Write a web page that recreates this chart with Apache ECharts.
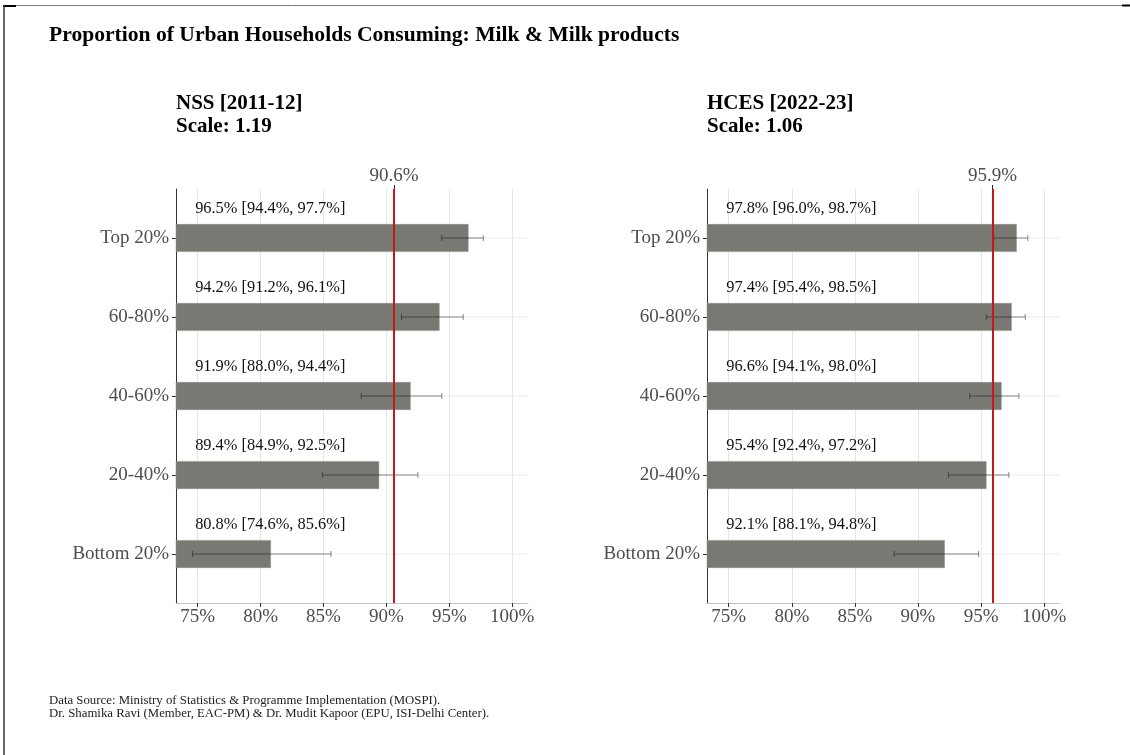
<!DOCTYPE html>
<html><head><meta charset="utf-8">
<script src="https://cdn.jsdelivr.net/npm/echarts@6/dist/echarts.min.js"></script>
<style>html,body{margin:0;padding:0;background:#fff}#c{width:1130px;height:755px}</style>
</head><body><div id="c"></div>
<script>
// ---------- data ----------
const mainTitle = 'Proportion of Urban Households Consuming: Milk & Milk products';
const categories = ['Top 20%', '60-80%', '40-60%', '20-40%', 'Bottom 20%'];
const xTicks = [75, 80, 85, 90, 95, 100];

const nssTitle = 'NSS [2011-12]';
const nssScale = 'Scale: 1.19';
const nssValue = [96.5, 94.2, 91.9, 89.4, 80.8];
const nssLow   = [94.4, 91.2, 88.0, 84.9, 74.6];
const nssHigh  = [97.7, 96.1, 94.4, 92.5, 85.6];
const nssAverage = 90.6;

const hcesTitle = 'HCES [2022-23]';
const hcesScale = 'Scale: 1.06';
const hcesValue = [97.8, 97.4, 96.6, 95.4, 92.1];
const hcesLow   = [96.0, 95.4, 94.1, 92.4, 88.1];
const hcesHigh  = [98.7, 98.5, 98.0, 97.2, 94.8];
const hcesAverage = 95.9;

const footer1 = 'Data Source: Ministry of Statistics & Programme Implementation (MOSPI).';
const footer2 = 'Dr. Shamika Ravi (Member, EAC-PM) & Dr. Mudit Kapoor (EPU, ISI-Delhi Center).';

// ---------- style / layout ----------
const XMIN = 73.28, XMAX = 101.25;
const YMIN = -0.62, YMAX = 4.62;
const BAR_H = 0.345, LABEL_OFF = 0.37, LABEL_X = 74.8;
const SERIF = '"Liberation Serif", "Times New Roman", serif';
const panels = [
  {title: nssTitle, scale: nssScale, value: nssValue, low: nssLow, high: nssHigh, avg: nssAverage, left: 176, width: 352},
  {title: hcesTitle, scale: hcesScale, value: hcesValue, low: hcesLow, high: hcesHigh, avg: hcesAverage, left: 707, width: 353}
];
const GRID_TOP = 189, GRID_H = 414;

function renderItem(params, api) {
  const v = api.value(0), i = api.value(1), lo = api.value(2), hi = api.value(3);
  const base = api.coord([XMIN, i]);
  const end = api.coord([v, i]);
  const right = api.coord([XMAX, i]);
  const loP = api.coord([lo, i]);
  const hiP = api.coord([hi, i]);
  const labP = api.coord([LABEL_X, i - LABEL_OFF]);
  const h = api.size([0, BAR_H])[1];
  const cap = 3;
  const ebStyle = {stroke: 'rgba(0,0,0,0.45)', lineWidth: 1};
  return {
    type: 'group',
    children: [
      {type: 'line', shape: {x1: base[0], y1: base[1], x2: right[0], y2: right[1]}, style: {stroke: '#ebebeb', lineWidth: 1}},
      {type: 'rect', shape: {x: base[0], y: base[1] - h / 2, width: end[0] - base[0], height: h}, style: {fill: '#797974', stroke: '#8a8a86', lineWidth: 0.5}},
      {type: 'line', shape: {x1: loP[0], y1: loP[1], x2: hiP[0], y2: hiP[1]}, style: ebStyle},
      {type: 'line', shape: {x1: loP[0], y1: loP[1] - cap, x2: loP[0], y2: loP[1] + cap}, style: ebStyle},
      {type: 'line', shape: {x1: hiP[0], y1: hiP[1] - cap, x2: hiP[0], y2: hiP[1] + cap}, style: ebStyle},
      {type: 'text', x: labP[0], y: labP[1], style: {
        text: v.toFixed(1) + '% [' + lo.toFixed(1) + '%, ' + hi.toFixed(1) + '%]',
        font: '16.4px ' + SERIF, fill: '#111', align: 'left', verticalAlign: 'middle'}}
    ]
  };
}

const grids = [], xAxes = [], yAxes = [], series = [], graphics = [];
panels.forEach((p, k) => {
  grids.push({left: p.left, width: p.width, top: GRID_TOP, height: GRID_H, containLabel: false});
  xAxes.push({
    type: 'value', gridIndex: k, min: XMIN, max: XMAX, position: 'bottom',
    axisLine: {show: true, onZero: false, lineStyle: {color: '#c4c4c4', width: 1}},
    axisTick: {show: true, customValues: xTicks, length: 4, lineStyle: {color: '#333'}},
    axisLabel: {customValues: xTicks, formatter: v => Math.round(v) + '%', margin: 5,
      fontFamily: SERIF, fontSize: 19, color: '#4d4d4d'},
    splitLine: {show: true, lineStyle: {color: '#e6e6e6', width: 1}}
  });
  xAxes.push({
    type: 'value', gridIndex: k, min: XMIN, max: XMAX, position: 'top',
    axisLine: {show: false, onZero: false},
    axisTick: {show: true, customValues: [p.avg], length: 4, lineStyle: {color: '#222'}},
    axisLabel: {customValues: [p.avg], formatter: v => v.toFixed(1) + '%', margin: 3,
      fontFamily: SERIF, fontSize: 19, color: '#4d4d4d'},
    splitLine: {show: false}
  });
  yAxes.push({
    type: 'value', gridIndex: k, inverse: true, min: YMIN, max: YMAX,
    axisLine: {show: true, onZero: false, lineStyle: {color: '#333', width: 1}},
    axisTick: {show: true, customValues: [0, 1, 2, 3, 4], length: 4, lineStyle: {color: '#333'}},
    axisLabel: {customValues: [0, 1, 2, 3, 4], formatter: v => categories[Math.round(v)], margin: 7,
      fontFamily: SERIF, fontSize: 19, color: '#4d4d4d'},
    splitLine: {show: false}
  });
  series.push({
    type: 'custom', xAxisIndex: k * 2, yAxisIndex: k, renderItem: renderItem,
    encode: {x: 0, y: 1},
    data: categories.map((c, i) => [p.value[i], i, p.low[i], p.high[i]]),
    animation: false,
    markLine: {silent: true, symbol: ['none', 'none'], label: {show: false}, animation: false,
      lineStyle: {color: '#c8161d', width: 2, type: 'solid'},
      data: [{xAxis: p.avg}]}
  });
  graphics.push({type: 'text', x: p.left, y: 104, style: {text: p.title, font: 'bold 21px ' + SERIF, fill: '#000', verticalAlign: 'middle'}});
  graphics.push({type: 'text', x: p.left, y: 127, style: {text: p.scale, font: 'bold 21px ' + SERIF, fill: '#000', verticalAlign: 'middle'}});
});

graphics.push({type: 'text', x: 49, y: 35, style: {text: mainTitle, font: 'bold 21.6px ' + SERIF, fill: '#000', verticalAlign: 'middle'}});
graphics.push({type: 'text', x: 49, y: 701, style: {text: footer1, font: '12.8px ' + SERIF, fill: '#222', verticalAlign: 'middle'}});
graphics.push({type: 'text', x: 49, y: 714, style: {text: footer2, font: '12.8px ' + SERIF, fill: '#222', verticalAlign: 'middle'}});
// page frame edges
graphics.push({type: 'line', shape: {x1: 16, y1: 5.5, x2: 1122, y2: 5.5}, style: {stroke: '#777', lineWidth: 1}});
graphics.push({type: 'line', shape: {x1: 3, y1: 6, x2: 16, y2: 6}, style: {stroke: '#000', lineWidth: 2}});
graphics.push({type: 'line', shape: {x1: 1122, y1: 5.5, x2: 1130, y2: 5.5}, style: {stroke: '#000', lineWidth: 2}});
graphics.push({type: 'line', shape: {x1: 4, y1: 5, x2: 4, y2: 755}, style: {stroke: '#333', lineWidth: 1.5}});

const chart = echarts.init(document.getElementById('c'), null, {renderer: 'canvas'});
chart.setOption({
  backgroundColor: '#fff',
  animation: false,
  grid: grids,
  xAxis: xAxes,
  yAxis: yAxes,
  series: series,
  graphic: graphics
});
</script>
</body></html>
